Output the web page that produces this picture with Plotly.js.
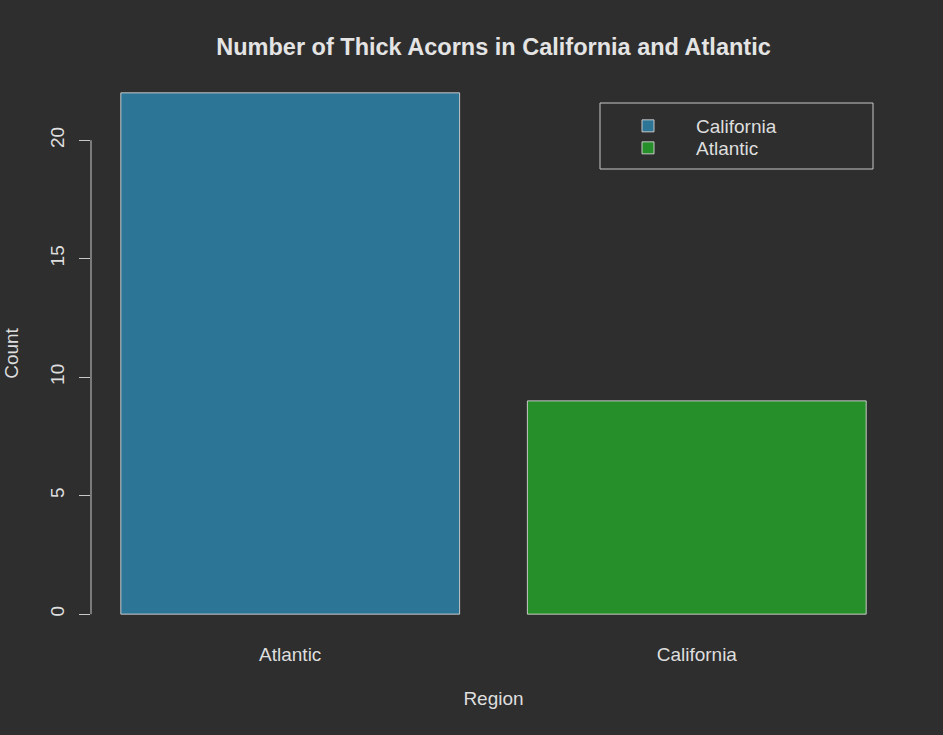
<!DOCTYPE html>
<html>
<head>
<meta charset="utf-8">
<script src="https://cdn.plot.ly/plotly-3.0.1.min.js"></script>
<style>html,body{margin:0;padding:0;background:#2e2e2e;}#chart{width:943px;height:735px;}</style>
</head>
<body>
<div id="chart"></div>
<script>
// Data
const regions = ["Atlantic", "California"];
const counts = [22, 9];
const legendNames = ["California", "Atlantic"];   // legend labels as drawn in the reference
const barColors = ["#2c7596", "#268f29"];
const yTicks = [0, 5, 10, 15, 20];

const textColor = "#dedede";
const lineColor = "#c8c8c8";
const font = "Liberation Sans, Arial, Helvetica, sans-serif";
const legendIds = ["legend", "legend2"];
const legendRowsY = [126, 148];

const traces = regions.map((r, i) => ({
  type: "bar",
  x: [r],
  y: [counts[i]],
  name: legendNames[i],
  legend: legendIds[i],
  marker: {color: barColors[i], line: {color: lineColor, width: 1}},
  hoverinfo: "x+y"
}));

function legendBox(i) {
  return {
    x: (600 - 91) / 805, xanchor: "left", xref: "paper",
    y: 1 - (legendRowsY[i] - 72) / 563, yanchor: "middle", yref: "paper",
    bgcolor: "rgba(0,0,0,0)", borderwidth: 0,
    font: {size: 19, color: textColor},
    itemwidth: 86
  };
}

const layout = {
  width: 943, height: 735,
  paper_bgcolor: "#2e2e2e", plot_bgcolor: "#2e2e2e",
  font: {family: font, size: 19, color: textColor},
  margin: {l: 91, r: 47, t: 72, b: 100},
  barmode: "overlay",
  bargap: 0.1667,
  title: {text: "<b>Number of Thick Acorns in California and Atlantic</b>",
          font: {size: 23.5, color: "#e4e4e4"},
          x: 0.5, xref: "paper", y: 1 - 47/735, yref: "container", yanchor: "middle"},
  xaxis: {
    type: "category", range: [-0.49, 1.49],
    showline: false, showgrid: false, zeroline: false, ticks: "",
    ticklabelstandoff: 6,
    title: {text: "Region", standoff: 27, font: {size: 19}},
    fixedrange: true
  },
  yaxis: {
    range: [-0.88, 22.88],
    tickvals: yTicks, ticktext: yTicks.map(String),
    tickangle: -90,
    showline: false, showgrid: false, zeroline: false,
    ticks: "outside", ticklen: 11, tickwidth: 1, tickcolor: lineColor,
    ticklabelstandoff: 7,
    title: {text: "Count", standoff: 23, font: {size: 19}},
    fixedrange: true
  },
  showlegend: true,
  legend: legendBox(0),
  legend2: legendBox(1),
  shapes: [
    {type: "line", xref: "paper", x0: 0, x1: 0, yref: "y", y0: yTicks[0], y1: yTicks[yTicks.length - 1],
     line: {color: lineColor, width: 1}},
    {type: "rect", xref: "paper", yref: "paper",
     x0: (600 - 91) / 805, x1: (873 - 91) / 805,
     y0: 1 - (169 - 72) / 563, y1: 1 - (103 - 72) / 563,
     line: {color: lineColor, width: 1}, fillcolor: "rgba(0,0,0,0)"}
  ]
};

Plotly.newPlot("chart", traces, layout, {displayModeBar: false, staticPlot: true});
</script>
</body>
</html>
